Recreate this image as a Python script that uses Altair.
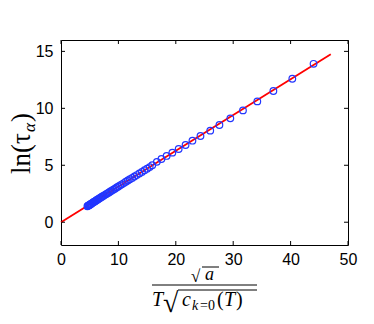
import altair as alt
import pandas as pd

# Data points
x_pts = [4.6, 4.7, 4.8, 4.9, 5.0, 5.1, 5.2, 5.35, 5.5, 5.65, 5.8, 5.95, 6.1, 6.25,
         6.4, 6.6, 6.8, 7.0, 7.2, 7.4, 7.6, 7.85, 8.1, 8.35, 8.6, 8.85, 9.1, 9.4,
         9.7, 10.0, 10.3, 10.6, 10.95, 11.3, 11.65, 12.0, 12.4, 12.8, 13.2, 13.65,
         14.1, 14.55, 15.0, 15.45, 15.9, 16.7, 17.5, 18.4, 19.4, 20.5, 21.7, 22.9,
         24.3, 26.0, 27.6, 29.5, 31.7, 34.2, 37.0, 40.3, 44.0]
y_pts = [1.40, 1.44, 1.47, 1.50, 1.53, 1.56, 1.60, 1.65, 1.70, 1.75, 1.80, 1.85, 1.90, 1.95,
         2.00, 2.06, 2.13, 2.19, 2.26, 2.32, 2.38, 2.46, 2.54, 2.62, 2.70, 2.78, 2.86, 2.95,
         3.05, 3.14, 3.24, 3.33, 3.44, 3.55, 3.66, 3.77, 3.89, 4.02, 4.14, 4.28,
         4.42, 4.56, 4.70, 4.84, 5.00, 5.30, 5.55, 5.82, 6.11, 6.43, 6.78, 7.16,
         7.57, 8.04, 8.54, 9.12, 9.82, 10.61, 11.52, 12.60, 13.91]

# Fit line
line_x = [0, 47]
line_y = [0, 14.74]

x_ticks = [0, 10, 20, 30, 40, 50]
y_ticks = [0, 5, 10, 15]

W, H = 287, 205

pts = pd.DataFrame({"x": x_pts, "y": y_pts})
ln = pd.DataFrame({"x": line_x, "y": line_y})
xt = pd.DataFrame({"v": x_ticks})
yt = pd.DataFrame({"v": y_ticks})
one = alt.Data(values=[{"a": 1}])

xs = alt.Scale(domain=[0, 50], nice=False, zero=False)
ys = alt.Scale(domain=[-2, 16], nice=False, zero=False)

lab = dict(labelFont="Liberation Sans", labelFontSize=16, labelColor="black",
           tickSize=0, domain=False, grid=False, title=None, labelFlush=False)

line = alt.Chart(ln).mark_line(color="#ff0000", strokeWidth=1.8).encode(
    x=alt.X("x:Q", scale=xs, axis=alt.Axis(values=x_ticks, labelPadding=6, **lab)),
    y=alt.Y("y:Q", scale=ys, axis=alt.Axis(values=y_ticks, labelPadding=8, **lab)),
)

points = alt.Chart(pts).mark_point(shape="circle", filled=False, color="#2236ff",
                                   size=44, strokeWidth=1.2, opacity=1).encode(
    x=alt.X("x:Q", scale=xs), y=alt.Y("y:Q", scale=ys))

tk = dict(color="black", strokeWidth=1)
xb = alt.Chart(xt).mark_rule(**tk).encode(x=alt.X("v:Q", scale=xs), y=alt.value(H), y2=alt.value(H - 4))
xtp = alt.Chart(xt).mark_rule(**tk).encode(x=alt.X("v:Q", scale=xs), y=alt.value(0), y2=alt.value(4))
yl = alt.Chart(yt).mark_rule(**tk).encode(y=alt.Y("v:Q", scale=ys), x=alt.value(0), x2=alt.value(4))
yr = alt.Chart(yt).mark_rule(**tk).encode(y=alt.Y("v:Q", scale=ys), x=alt.value(W), x2=alt.value(W - 4))

serif = "Liberation Serif"


def txt(s, x, y, size, italic=False, angle=0):
    kw = dict(text=s, font=serif, fontSize=size, align="left", baseline="alphabetic", color="black")
    if italic:
        kw["fontStyle"] = "italic"
    if angle:
        kw["angle"] = angle
    return alt.Chart(one).mark_text(**kw).encode(x=alt.value(x), y=alt.value(y))


def hline(x1, x2, y, w=1):
    return alt.Chart(one).mark_rule(color="black", strokeWidth=w).encode(
        x=alt.value(x1), x2=alt.value(x2), y=alt.value(y))


# y label pieces: ln(τ_α)
ylab = [
    txt("ln(τ", -31, 134, 27, angle=270),
    txt("α", -26, 92, 17, italic=True, angle=270),
    txt(")", -31, 82, 27, angle=270),
]

# x label: fraction  √a / (T √(c_{k=0}(T)))
xlab = [
    txt("√", 130, 242, 17),
    hline(141, 158, 227),
    txt("a", 144, 240, 18, italic=True),
    hline(91, 196, 245),
    txt("T", 91, 266, 20, italic=True),
    txt("√", 102, 272, 28),
    hline(117, 196, 250),
    txt("c", 121, 266, 20, italic=True),
    txt("k", 131, 270, 14, italic=True),
    txt("=0", 139, 270, 14),
    txt("(", 156, 266, 20),
    txt("T", 163, 266, 20, italic=True),
    txt(")", 175, 266, 20),
]

chart = alt.layer(line, points, xb, xtp, yl, yr, *ylab, *xlab).properties(
    width=W, height=H,
    autosize=alt.AutoSizeParams(type="none"),
    padding={"left": 53, "top": 32, "right": 18, "bottom": 71},
).configure_view(stroke="black", strokeWidth=1)

chart.save("out.html", embed_options={"renderer": "svg", "actions": False})
